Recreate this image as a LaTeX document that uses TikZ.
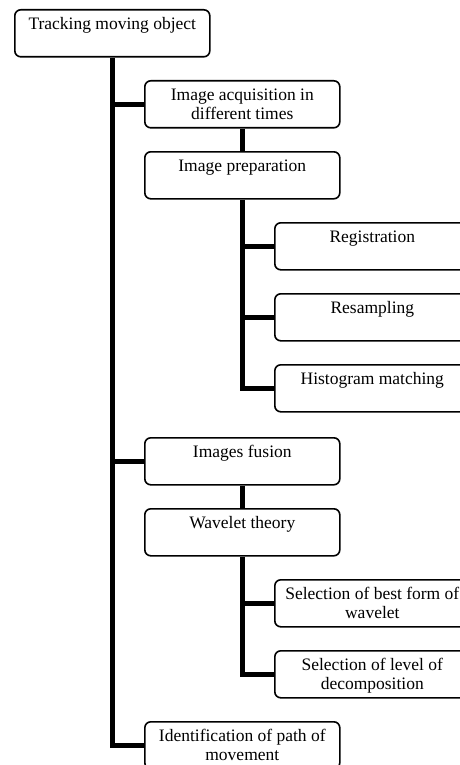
\documentclass[tikz,border=0pt]{standalone}
\usepackage{fontspec}
\setmainfont{Liberation Serif}
\newcommand{\bt}[1]{\parbox[c][47pt][t]{195pt}{\centering\fontsize{17.5pt}{19.5pt}\selectfont\rule{0pt}{19.5pt}#1\par}}
\begin{document}
\begin{tikzpicture}[x=1pt,y=-1pt,
  bx/.style={draw,line width=1.6pt,rounded corners=6pt,inner sep=0pt,anchor=north west},
  conn/.style={line width=5pt,line join=miter}]
\useasboundingbox (0,0) rectangle (459,765);
\node[bx] (t) at (14,9) {\bt{Tracking moving object}};
\node[bx] (acq) at (144,80) {\bt{Image acquisition in\\different times}};
\node[bx] (prep) at (144,151) {\bt{Image preparation}};
\node[bx] (reg) at (274,222) {\bt{Registration}};
\node[bx] (res) at (274,293) {\bt{Resampling}};
\node[bx] (hist) at (274,364) {\bt{Histogram matching}};
\node[bx] (fus) at (144,437) {\bt{Images fusion}};
\node[bx] (wav) at (144,508) {\bt{Wavelet theory}};
\node[bx] (best) at (274,579) {\bt{Selection of best form of\\wavelet}};
\node[bx] (lev) at (274,650) {\bt{Selection of level of\\decomposition}};
\node[bx] (id) at (144,721) {\bt{Identification of path of\\movement}};
% main trunk
\draw[conn] (t.south) |- (id.west);
\draw[conn] (t.south |- acq.west) -- (acq.west);
\draw[conn] (t.south |- fus.west) -- (fus.west);
% acquisition to preparation
\draw[conn] (acq.south) -- (prep.north);
\draw[conn] (prep.south) |- (hist.west);
\draw[conn] (prep.south |- reg.west) -- (reg.west);
\draw[conn] (prep.south |- res.west) -- (res.west);
% fusion to wavelet
\draw[conn] (fus.south) -- (wav.north);
\draw[conn] (wav.south) |- (lev.west);
\draw[conn] (wav.south |- best.west) -- (best.west);
\end{tikzpicture}
\end{document}
